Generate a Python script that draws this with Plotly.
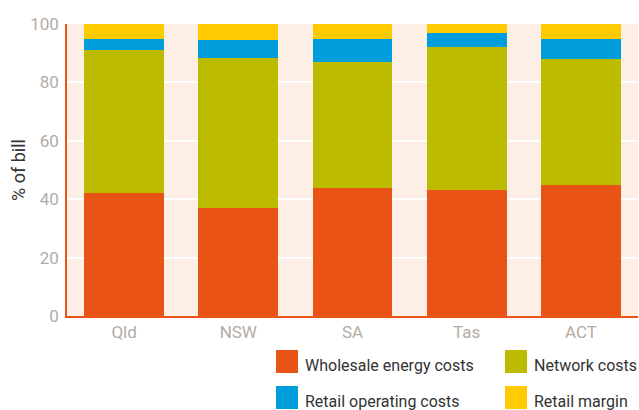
import plotly.graph_objects as go

categories = ["Qld", "NSW", "SA", "Tas", "ACT"]
wholesale = [42, 37, 44, 43, 45]
network = [49, 51.5, 43, 49, 43]
retail_op = [4, 6, 8, 5, 7]
retail_margin = [5, 5.5, 5, 3, 5]
y_ticks = [0, 20, 40, 60, 80, 100]

series = [
    ("Wholesale energy costs", wholesale, "#E95316"),
    ("Network costs", network, "#BDBB00"),
    ("Retail operating costs", retail_op, "#009DDC"),
    ("Retail margin", retail_margin, "#FFCB00"),
]

W, H = 639, 410
L, R, T, B = 67, 1, 24, 94
pw, ph = W - L - R, H - T - B

def px(x):
    return (x - L) / pw

def py(y):
    return (H - B - y) / ph

fig = go.Figure()
for name, vals, color in series:
    fig.add_trace(go.Bar(x=categories, y=vals, name=name, marker_color=color,
                         marker_line_width=0, showlegend=False))

# manual legend
legend_pos = [(276, 350), (505, 350), (276, 386), (505, 386)]
shapes = []
annotations = []
for (name, vals, color), (lx, ly) in zip(series, legend_pos):
    shapes.append(dict(type="rect", xref="paper", yref="paper",
                       x0=px(lx), x1=px(lx + 22), y0=py(ly), y1=py(ly + 23),
                       fillcolor=color, line_width=0))
    annotations.append(dict(xref="paper", yref="paper", x=px(lx + 27), y=py(ly + 15),
                            text=name, showarrow=False, xanchor="left", yanchor="middle",
                            font=dict(size=16, color="#333333", family="Roboto")))

fig.update_layout(
    width=W, height=H,
    margin=dict(l=L, r=R, t=T, b=B),
    barmode="stack", bargap=0.3,
    plot_bgcolor="#FDEEE6", paper_bgcolor="white",
    font=dict(family="Roboto", size=17, color="#B3ABA4"),
    shapes=shapes, annotations=annotations,
    xaxis=dict(showline=True, linecolor="#E95316", linewidth=1.5, ticks="",
               tickfont=dict(size=17, color="#B3ABA4")),
    yaxis=dict(range=[0, 100], tickvals=y_ticks, showgrid=True, gridcolor="white",
               gridwidth=1.5, zeroline=False, showline=True, linecolor="#E95316",
               linewidth=1.5, ticks="", ticklabelstandoff=3,
               tickfont=dict(size=17, color="#B3ABA4"),
               title=dict(text="% of bill", font=dict(size=18, color="#333333"), standoff=0)),
)

fig.write_html("out.html")
